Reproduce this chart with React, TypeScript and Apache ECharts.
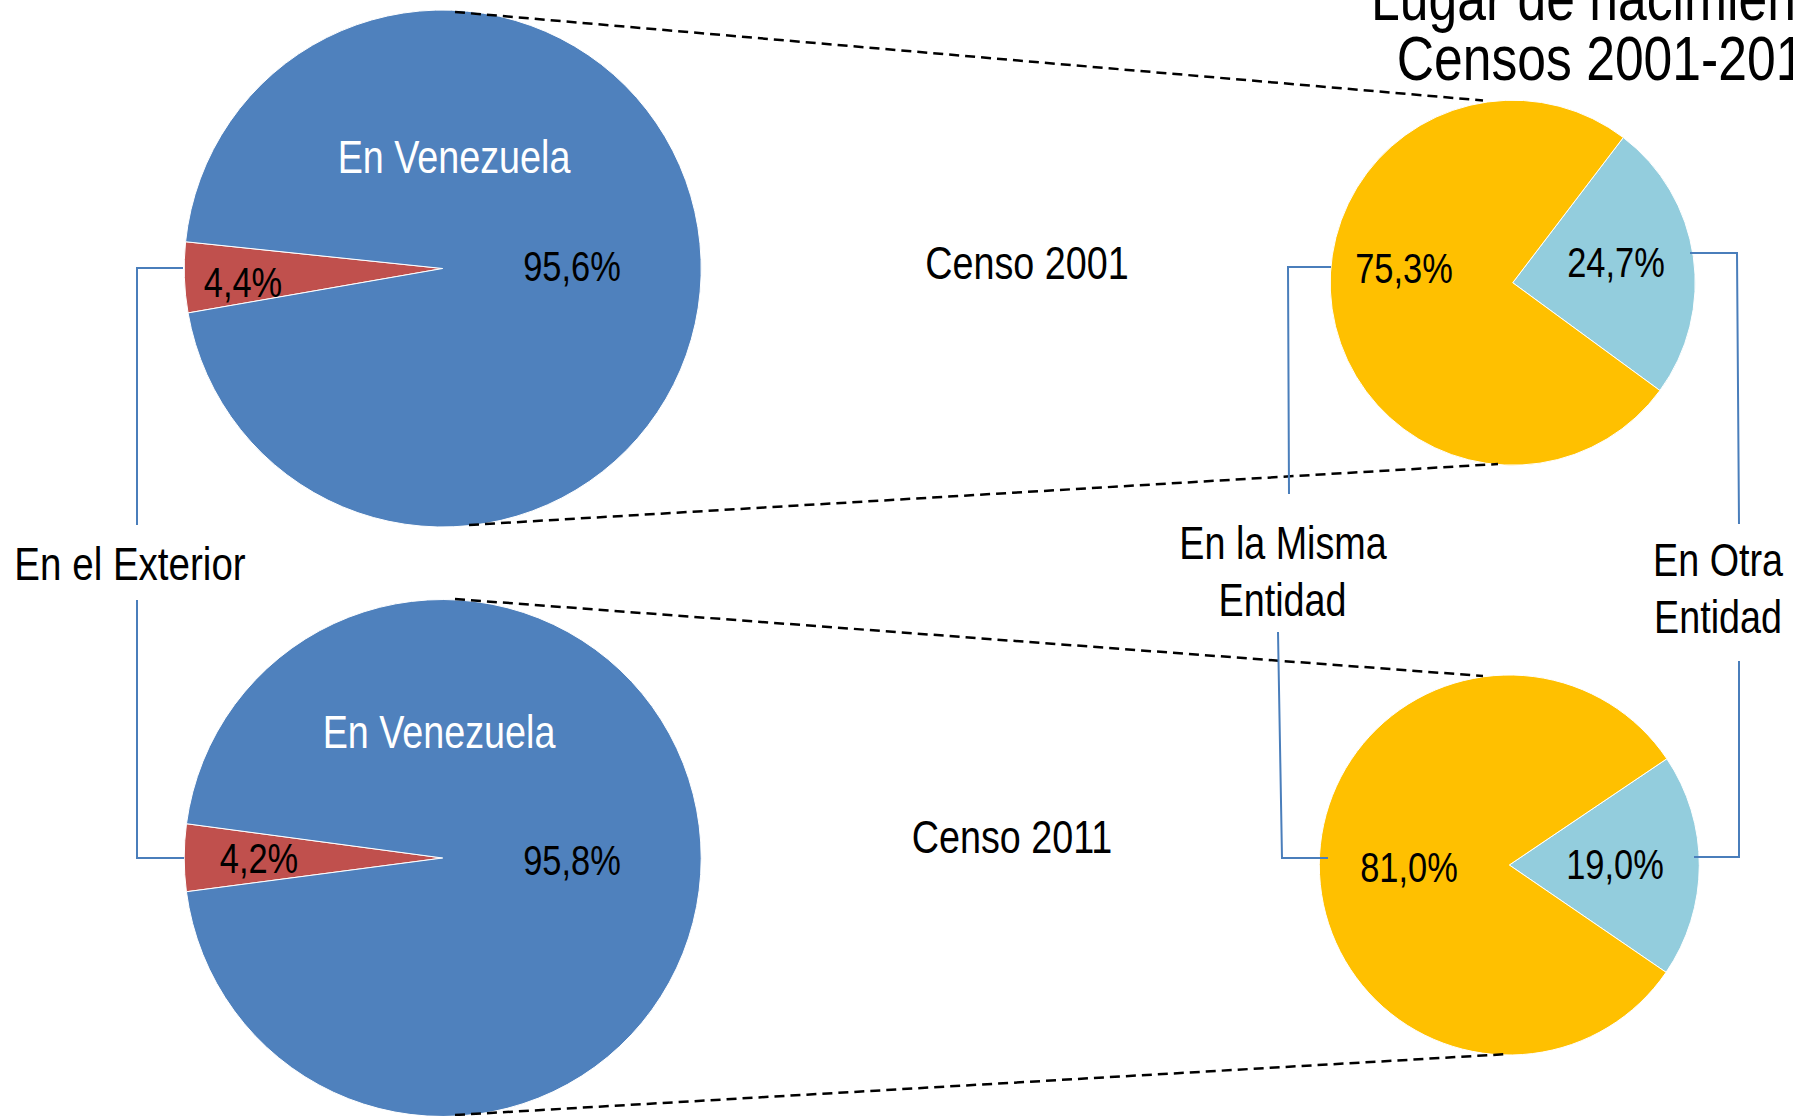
import React, { useEffect, useRef } from "react";
import * as echarts from "echarts";

// ---- data ----
const censos = ["Censo 2001", "Censo 2011"];
const lugarCats = ["En el Exterior", "En Venezuela"];
const exterior = [4.4, 4.2];
const venezuela = [95.6, 95.8];
const entidadCats = ["En Otra Entidad", "En la Misma Entidad"];
const otra = [24.7, 19.0];
const misma = [75.3, 81.0];
const titleLines = ["Lugar de nacimiento", "Censos 2001-2011"];

const fmt = (v: number) => v.toFixed(1).replace(".", ",") + "%";

const FAMILY = "Liberation Sans";

const C_BLUE = "#4f81bd";
const C_RED = "#c0504d";
const C_ORANGE = "#ffc000";
const C_LIGHT = "#93cddd";
const C_LINE = "#4a7ebb";

export default function App() {
  const ref = useRef<HTMLDivElement>(null);
  useEffect(() => {
    if (!ref.current) return;
    const chart = echarts.init(ref.current, undefined, { renderer: "svg" });

    const bigCenters = [
      [442.7, 268.5],
      [442.7, 858],
    ];
    const bigStart = [189.9, 187.5];
    const smallCenters = [
      [1512.7, 282.7],
      [1509.3, 865],
    ];
    const smallR = [182.5, 190];
    const smallStart = [52.7, 34];

    const pieBase = {
      type: "pie",
      clockwise: true,
      label: { show: false },
      labelLine: { show: false },
      emphasis: { disabled: true },
      silent: true,
      itemStyle: { borderColor: "#ffffff", borderWidth: 1 },
    };

    const series: any[] = [];
    censos.forEach((c, i) => {
      series.push({
        ...pieBase,
        name: c + " lugar",
        center: bigCenters[i],
        radius: 258.5,
        startAngle: bigStart[i],
        data: [
          { name: lugarCats[0], value: exterior[i], itemStyle: { color: C_RED } },
          { name: lugarCats[1], value: venezuela[i], itemStyle: { color: C_BLUE } },
        ],
      });
      series.push({
        ...pieBase,
        name: c + " entidad",
        center: smallCenters[i],
        radius: smallR[i],
        startAngle: smallStart[i],
        data: [
          { name: entidadCats[0], value: otra[i], itemStyle: { color: C_LIGHT } },
          { name: entidadCats[1], value: misma[i], itemStyle: { color: C_ORANGE } },
        ],
      });
    });

    // emulate Arial Narrow by horizontal compression of Liberation Sans
    const txt = (text: string, x: number, y: number, size: number, fill = "#000", lh?: number) => ({
      type: "text",
      x,
      y,
      scaleX: 0.82,
      z: 100,
      silent: true,
      style: {
        text,
        fill,
        fontFamily: FAMILY,
        fontSize: size,
        lineHeight: lh ?? size,
        align: "center",
        verticalAlign: "middle",
      },
    });

    const dash = (x1: number, y1: number, x2: number, y2: number) => ({
      type: "line",
      z: 90,
      silent: true,
      shape: { x1, y1, x2, y2 },
      style: { stroke: "#000", lineWidth: 2.5, lineDash: [10, 6] },
    });

    const poly = (pts: number[][]) => ({
      type: "polyline",
      z: 90,
      silent: true,
      shape: { points: pts },
      style: { stroke: C_LINE, lineWidth: 2, fill: "none" },
    });

    const graphic: any[] = [
      // title
      txt(titleLines[0], 1605, -2, 63, "#000", 56),
      txt(titleLines[1], 1613, 58, 63, "#000", 56),
      // dashed connectors
      dash(455, 12, 1483, 100.5),
      dash(469, 525, 1498, 464),
      dash(455, 599, 1483, 676),
      dash(455, 1115, 1509, 1054),
      // blue brackets
      poly([[183, 268], [137, 268], [137, 525]]),
      poly([[137, 600], [137, 858], [184, 858]]),
      poly([[1331, 267], [1288, 267], [1289, 494]]),
      poly([[1278, 632], [1282, 858], [1328, 858]]),
      poly([[1690, 253], [1737, 253], [1739, 524]]),
      poly([[1739, 661], [1739, 857], [1694, 857]]),
      // category labels
      txt(lugarCats[1], 454, 157, 46, "#ffffff"),
      txt(lugarCats[1], 439, 732, 46, "#ffffff"),
      txt(lugarCats[0], 130, 564, 47),
      txt("En la Misma", 1283, 543, 46),
      txt("Entidad", 1282.5, 600, 46),
      txt("En Otra", 1718, 560, 46),
      txt("Entidad", 1718, 617, 46),
      txt(censos[0], 1027, 263, 46),
      txt(censos[1], 1012, 837, 46),
      // values
      txt(fmt(venezuela[0]), 572, 266, 42),
      txt(fmt(exterior[0]), 243, 282, 42),
      txt(fmt(venezuela[1]), 572, 860, 42),
      txt(fmt(exterior[1]), 259, 858, 42),
      txt(fmt(misma[0]), 1404, 268, 42),
      txt(fmt(otra[0]), 1616, 262, 42),
      txt(fmt(misma[1]), 1409, 867, 42),
      txt(fmt(otra[1]), 1615, 864, 42),
    ];

    chart.setOption({
      animation: false,
      backgroundColor: "#ffffff",
      series,
      graphic,
    });

    return () => chart.dispose();
  }, []);

  return (
    <div
      ref={ref}
      style={{ position: "fixed", left: 0, top: 0, width: 1793, height: 1116, background: "#fff" }}
    />
  );
}
